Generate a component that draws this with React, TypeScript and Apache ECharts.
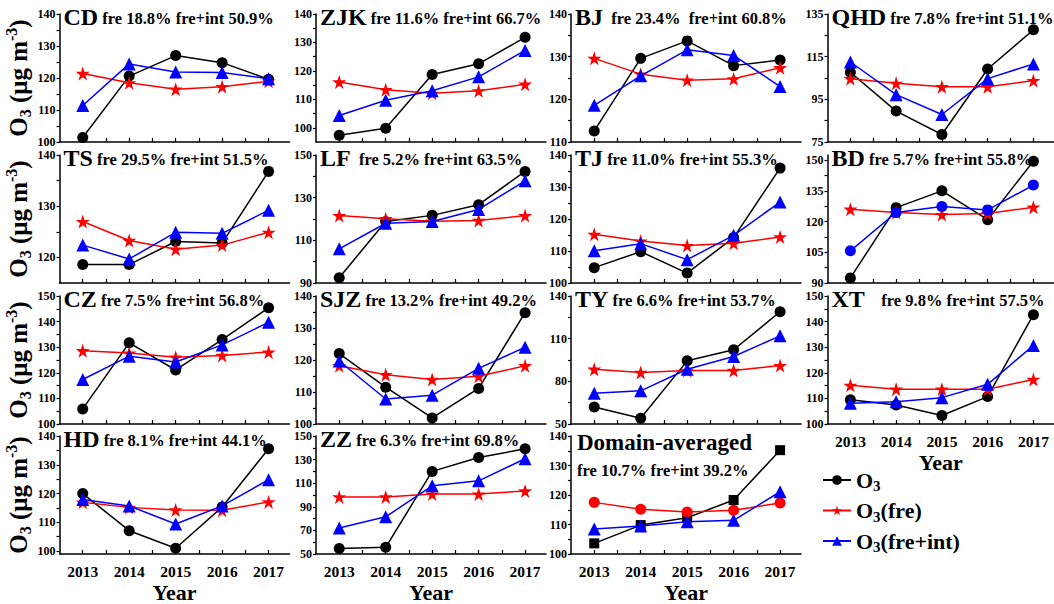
import React, { useEffect, useRef } from "react";
import * as echarts from "echarts";

const years = [2013, 2014, 2015, 2016, 2017];

const cdO3 = [101.4, 120.6, 127.0, 124.8, 119.6];
const cdFre = [121.4, 118.5, 116.5, 117.3, 119.0];
const cdFreInt = [111.4, 124.4, 121.9, 121.7, 119.8];
const cdTicks = [100, 110, 120, 130, 140];

const zjkO3 = [97.4, 99.8, 118.7, 122.5, 131.8];
const zjkFre = [116.1, 113.4, 112.1, 113.0, 115.3];
const zjkFreInt = [104.3, 109.7, 113.0, 117.9, 127.2];
const zjkTicks = [100, 110, 120, 130, 140];

const bjO3 = [112.6, 129.6, 133.7, 127.9, 129.2];
const bjFre = [129.6, 125.9, 124.5, 124.8, 127.4];
const bjFreInt = [118.6, 125.5, 131.6, 130.3, 123.0];
const bjTicks = [110, 120, 130, 140];

const qhdO3 = [107.7, 89.5, 78.5, 109.2, 127.6];
const qhdFre = [104.7, 102.5, 100.9, 100.9, 103.8];
const qhdFreInt = [112.5, 97.2, 87.9, 104.7, 111.6];
const qhdTicks = [75, 95, 115, 135];

const tsO3 = [118.6, 118.6, 123.1, 122.8, 136.8];
const tsFre = [127.0, 123.3, 121.6, 122.4, 124.9];
const tsFreInt = [122.4, 119.7, 124.9, 124.7, 129.2];
const tsTicks = [120, 130, 140];

const lfO3 = [92.5, 118.8, 121.7, 126.7, 142.3];
const lfFre = [121.6, 120.1, 119.0, 119.3, 121.6];
const lfFreInt = [106.0, 118.0, 118.8, 124.5, 137.9];
const lfTicks = [90, 110, 130, 150];

const tjO3 = [104.8, 109.8, 103.1, 114.2, 135.9];
const tjFre = [115.2, 113.1, 111.7, 112.4, 114.4];
const tjFreInt = [110.1, 112.3, 107.3, 114.9, 125.3];
const tjTicks = [100, 110, 120, 130, 140];

const bdO3 = [92.5, 126.8, 135.0, 120.9, 149.5];
const bdFre = [126.0, 124.4, 123.4, 123.9, 127.0];
const bdFreInt = [105.7, 124.4, 127.3, 125.7, 137.8];
const bdTicks = [90, 105, 120, 135, 150];

const czO3 = [105.9, 131.7, 121.1, 133.0, 145.4];
const czFre = [128.6, 127.7, 126.1, 126.8, 128.1];
const czFreInt = [117.4, 126.5, 124.2, 130.9, 139.7];
const czTicks = [100, 110, 120, 130, 140, 150];

const sjzO3 = [122.0, 111.5, 101.9, 111.1, 134.8];
const sjzFre = [118.2, 115.4, 113.9, 114.9, 118.2];
const sjzFreInt = [119.7, 107.8, 109.0, 117.4, 124.0];
const sjzTicks = [100, 110, 120, 130, 140];

const tyO3 = [62.0, 54.0, 94.4, 102.2, 128.9];
const tyFre = [88.5, 86.2, 87.6, 87.6, 91.1];
const tyFreInt = [71.6, 73.3, 88.5, 97.5, 112.0];
const tyTicks = [50, 80, 110, 140];

const xtO3 = [109.5, 107.4, 103.3, 110.7, 142.7];
const xtFre = [115.1, 113.6, 113.6, 113.6, 117.4];
const xtFreInt = [108.1, 108.7, 110.3, 115.5, 130.7];
const xtTicks = [100, 110, 120, 130, 140, 150];

const hdO3 = [120.0, 107.1, 101.0, 115.3, 135.6];
const hdFre = [117.0, 115.2, 114.3, 114.2, 117.1];
const hdFreInt = [117.9, 115.7, 109.4, 115.7, 124.8];
const hdTicks = [100, 110, 120, 130, 140];

const zzO3 = [54.7, 55.7, 120.0, 131.8, 139.1];
const zzFre = [98.4, 98.4, 100.8, 100.8, 103.4];
const zzFreInt = [72.1, 81.5, 107.8, 112.0, 130.7];
const zzTicks = [50, 70, 90, 110, 130, 150];

const domO3 = [103.6, 109.8, 112.3, 118.3, 135.2];
const domFre = [117.5, 115.2, 114.2, 114.8, 117.3];
const domFreInt = [108.5, 109.5, 110.9, 111.4, 121.1];
const domTicks = [100, 110, 120, 130, 140];

type Panel = {
  code: string;
  sub: string;
  o3: number[];
  fre: number[];
  fi: number[];
  ticks: number[];
  min: number;
  max: number;
  row: number;
  col: number;
  kind?: string;
};

const panels: Panel[] = [
  { code: "CD", sub: " fre 18.8% fre+int 50.9%", o3: cdO3, fre: cdFre, fi: cdFreInt, ticks: cdTicks, min: 100, max: 140, row: 0, col: 0 },
  { code: "ZJK", sub: " fre 11.6% fre+int 66.7%", o3: zjkO3, fre: zjkFre, fi: zjkFreInt, ticks: zjkTicks, min: 95, max: 140, row: 0, col: 1 },
  { code: "BJ", sub: "  fre 23.4%  fre+int 60.8%", o3: bjO3, fre: bjFre, fi: bjFreInt, ticks: bjTicks, min: 110, max: 140, row: 0, col: 2 },
  { code: "QHD", sub: " fre 7.8% fre+int 51.1%", o3: qhdO3, fre: qhdFre, fi: qhdFreInt, ticks: qhdTicks, min: 75, max: 135, row: 0, col: 3 },
  { code: "TS", sub: " fre 29.5% fre+int 51.5%", o3: tsO3, fre: tsFre, fi: tsFreInt, ticks: tsTicks, min: 115, max: 140, row: 1, col: 0 },
  { code: "LF", sub: "  fre 5.2% fre+int 63.5%", o3: lfO3, fre: lfFre, fi: lfFreInt, ticks: lfTicks, min: 90, max: 150, row: 1, col: 1 },
  { code: "TJ", sub: " fre 11.0% fre+int 55.3%", o3: tjO3, fre: tjFre, fi: tjFreInt, ticks: tjTicks, min: 100, max: 140, row: 1, col: 2 },
  { code: "BD", sub: " fre 5.7% fre+int 55.8%", o3: bdO3, fre: bdFre, fi: bdFreInt, ticks: bdTicks, min: 90, max: 152.5, row: 1, col: 3, kind: "bd" },
  { code: "CZ", sub: " fre 7.5% fre+int 56.8%", o3: czO3, fre: czFre, fi: czFreInt, ticks: czTicks, min: 100, max: 150, row: 2, col: 0 },
  { code: "SJZ", sub: " fre 13.2% fre+int 49.2%", o3: sjzO3, fre: sjzFre, fi: sjzFreInt, ticks: sjzTicks, min: 100, max: 140, row: 2, col: 1 },
  { code: "TY", sub: " fre 6.6% fre+int 53.7%", o3: tyO3, fre: tyFre, fi: tyFreInt, ticks: tyTicks, min: 50, max: 140, row: 2, col: 2 },
  { code: "XT", sub: "    fre 9.8% fre+int 57.5%", o3: xtO3, fre: xtFre, fi: xtFreInt, ticks: xtTicks, min: 100, max: 150, row: 2, col: 3 },
  { code: "HD", sub: " fre 8.1% fre+int 44.1%", o3: hdO3, fre: hdFre, fi: hdFreInt, ticks: hdTicks, min: 99, max: 140, row: 3, col: 0 },
  { code: "ZZ", sub: " fre 6.3% fre+int 69.8%", o3: zzO3, fre: zzFre, fi: zzFreInt, ticks: zzTicks, min: 50, max: 150, row: 3, col: 1 },
  { code: "Domain-averaged", sub: "fre 10.7% fre+int 39.2%", o3: domO3, fre: domFre, fi: domFreInt, ticks: domTicks, min: 100, max: 140, row: 3, col: 2, kind: "dom" },
];

const FONT = "'Liberation Serif', 'Times New Roman', serif";
const STAR =
  "path://M50,0 L61.2,34.5 L97.6,34.5 L68.2,55.9 L79.4,90.5 L50,69.1 L20.6,90.5 L31.8,55.9 L2.4,34.5 L38.8,34.5 Z";

const rowTops = [14, 155, 296, 436];
const colLefts = [59.5, 316, 571, 827.5];
const GRID_H = 128;
const GRID_W = 230;

function buildOption() {
  const grid: any[] = [];
  const xAxis: any[] = [];
  const yAxis: any[] = [];
  const series: any[] = [];
  const title: any[] = [];

  const xTickVals: number[] = [];
  years.forEach((y, i) => {
    xTickVals.push(y);
    if (i < years.length - 1) xTickVals.push(y + 0.5);
  });

  panels.forEach((p, i) => {
    const left = colLefts[p.col];
    const top = rowTops[p.row];
    grid.push({ left, top, width: GRID_W, height: GRID_H, containLabel: false });
    const showX = p.row === 3 || (p.row === 2 && p.col === 3);
    xAxis.push({
      type: "value",
      gridIndex: i,
      min: 2012.5,
      max: 2017.45,
      axisLine: { show: true, onZero: false, lineStyle: { color: "#000", width: 1.5 } },
      axisTick: { show: true, inside: true, length: 4, customValues: xTickVals, lineStyle: { color: "#000", width: 1.2 } },
      axisLabel: {
        show: showX,
        customValues: years,
        formatter: (v: number) => String(Math.round(v)),
        fontFamily: FONT,
        fontWeight: "bold",
        fontSize: 15.5,
        color: "#000",
        margin: 9,
      },
      splitLine: { show: false },
      name: showX ? "Year" : "",
      nameLocation: "middle",
      nameGap: 27,
      nameTextStyle: { fontFamily: FONT, fontWeight: "bold", fontSize: 22, color: "#000" },
    });
    const yTickVals: number[] = [];
    p.ticks.forEach((t, k) => {
      yTickVals.push(t);
      if (k < p.ticks.length - 1) yTickVals.push((t + p.ticks[k + 1]) / 2);
    });
    yAxis.push({
      type: "value",
      gridIndex: i,
      min: p.min,
      max: p.max,
      axisLine: { show: true, onZero: false, lineStyle: { color: "#000", width: 1.5 } },
      axisTick: { show: true, inside: false, length: 3, customValues: yTickVals, lineStyle: { color: "#000", width: 1.2 } },
      axisLabel: {
        customValues: p.ticks,
        formatter: (v: number) => String(v),
        fontFamily: FONT,
        fontWeight: "bold",
        fontSize: 12,
        color: "#000",
        margin: 4,
      },
      splitLine: { show: false },
      name: p.col === 0 ? "{o|O}{s|3}{o| (μg m}{p|-3}{o|)}" : "",
      nameLocation: "middle",
      nameRotate: 90,
      nameGap: 23,
      nameTextStyle: {
        color: "#000",
        rich: {
          o: { fontFamily: FONT, fontWeight: "bold", fontSize: 25, color: "#000" },
          s: { fontFamily: FONT, fontWeight: "bold", fontSize: 16, color: "#000", padding: [14, 0, 0, 0] },
          p: { fontFamily: FONT, fontWeight: "bold", fontSize: 16, color: "#000", padding: [0, 0, 14, 0] },
        },
      },
    });

    const isDom = p.kind === "dom";
    title.push({
      left: left + (isDom ? 6 : 4),
      top: top - (isDom ? 5 : 9),
      padding: 0,
      text: isDom ? `{a|${p.code}}\n{c|${p.sub}}` : `{a|${p.code}}{b|${p.sub}}`,
      textStyle: {
        rich: {
          a: { fontFamily: FONT, fontWeight: "bold", fontSize: isDom ? 23 : 24, color: "#000", verticalAlign: "bottom" },
          b: { fontFamily: FONT, fontWeight: "bold", fontSize: 16.5, color: "#000", verticalAlign: "bottom", padding: [0, 0, 2, 0] },
          c: { fontFamily: FONT, fontWeight: "bold", fontSize: 16.5, color: "#000", lineHeight: 32 },
        },
      },
    });

    const mk = (arr: number[]) => years.map((y, k) => [y, arr[k]]);
    series.push({
      type: "line",
      name: "O3",
      xAxisIndex: i,
      yAxisIndex: i,
      data: mk(p.o3),
      symbol: isDom ? "rect" : "circle",
      symbolSize: isDom ? 10 : 11,
      itemStyle: { color: "#000" },
      lineStyle: { color: "#000", width: 1.5 },
      z: 2,
    });
    series.push({
      type: "line",
      name: "O3(fre)",
      xAxisIndex: i,
      yAxisIndex: i,
      data: mk(p.fre),
      symbol: isDom ? "circle" : STAR,
      symbolSize: isDom ? 11 : 14,
      itemStyle: { color: "#ff0000" },
      lineStyle: { color: "#ff0000", width: 1.5 },
      z: 3,
    });
    series.push({
      type: "line",
      name: "O3(fre+int)",
      xAxisIndex: i,
      yAxisIndex: i,
      data: mk(p.fi),
      symbol: p.kind === "bd" ? "circle" : "triangle",
      symbolSize: p.kind === "bd" ? 11 : 13,
      itemStyle: { color: "#0000ff" },
      lineStyle: { color: "#0000ff", width: 1.5 },
      z: 4,
    });
  });

  const legendRich = {
    o: { fontFamily: FONT, fontWeight: "bold", fontSize: 22, color: "#000" },
    s: { fontFamily: FONT, fontWeight: "bold", fontSize: 15, color: "#000", padding: [12, 0, 0, 0] },
  };
  const legendText: Record<string, string> = {
    "O3": "{o|O}{s|3}",
    "O3(fre)": "{o|O}{s|3}{o|(fre)}",
    "O3(fre+int)": "{o|O}{s|3}{o|(fre+int)}",
  };

  return {
    animation: false,
    backgroundColor: "#fff",
    grid,
    xAxis,
    yAxis,
    series,
    title,
    legend: {
      orient: "vertical",
      left: 822,
      top: 469,
      padding: 0,
      itemWidth: 28,
      itemHeight: 12,
      itemGap: 6,
      data: ["O3", "O3(fre)", "O3(fre+int)"],
      formatter: (n: string) => legendText[n] || n,
      textStyle: { rich: legendRich },
      selectedMode: false,
    },
  };
}

export default function App() {
  const ref = useRef<HTMLDivElement>(null);
  useEffect(() => {
    if (!ref.current) return;
    const chart = echarts.init(ref.current, undefined, { renderer: "svg" });
    chart.setOption(buildOption() as any);
    return () => chart.dispose();
  }, []);
  return (
    <div
      ref={ref}
      style={{ position: "absolute", left: 0, top: 0, width: 1054, height: 604, background: "#fff" }}
    />
  );
}
